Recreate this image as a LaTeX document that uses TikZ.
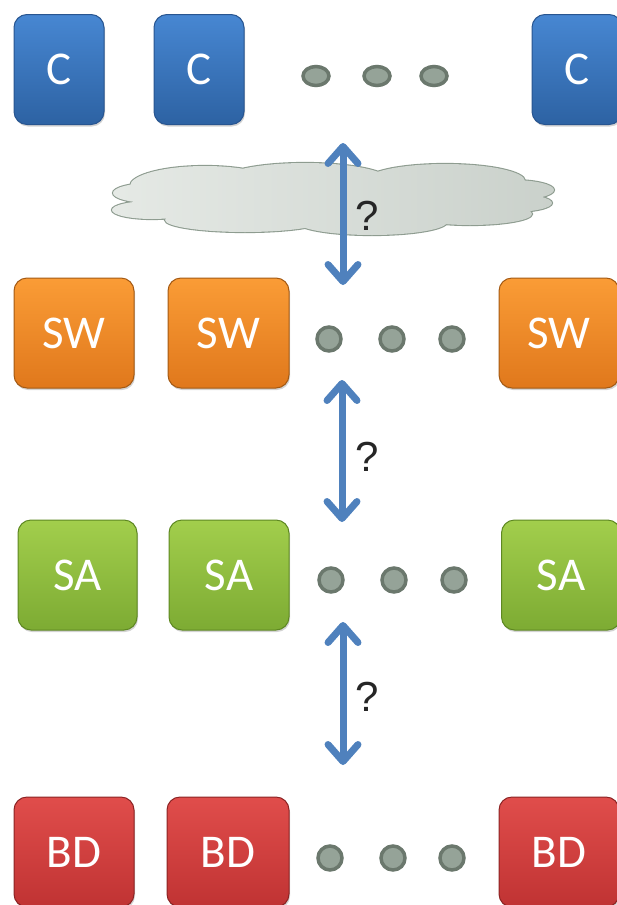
\documentclass[tikz,border=0pt]{standalone}
\usepackage{fontspec}
\setmainfont{Carlito}
\newfontfamily\qfont{Liberation Sans}
\usetikzlibrary{arrows.meta,shadows,shapes.geometric}
\definecolor{bluetop}{HTML}{4787D2}
\definecolor{bluebot}{HTML}{2D62A3}
\definecolor{blueedge}{HTML}{285590}
\definecolor{orgtop}{HTML}{FA9C36}
\definecolor{orgbot}{HTML}{E0781C}
\definecolor{orgedge}{HTML}{A45A14}
\definecolor{grntop}{HTML}{A2CE4C}
\definecolor{grnbot}{HTML}{7DAB33}
\definecolor{grnedge}{HTML}{5E8822}
\definecolor{redtop}{HTML}{E04D4B}
\definecolor{redbot}{HTML}{C03333}
\definecolor{rededge}{HTML}{8C2424}
\definecolor{arrowblue}{HTML}{4F81BD}
\definecolor{dotfill}{HTML}{95A398}
\definecolor{dotedge}{HTML}{6B786D}
\definecolor{cloudL}{HTML}{E6EAE6}
\definecolor{cloudR}{HTML}{C9D0CA}
\definecolor{cloudedge}{HTML}{8E9C90}
\tikzset{
  box/.style={rectangle, rounded corners=13pt, minimum height=110pt, inner sep=0pt,
    text=white, font=\fontsize{47}{52}\selectfont, line width=1pt,
    drop shadow={opacity=0.35, shadow xshift=1pt, shadow yshift=-2pt}},
  cbox/.style={box, top color=bluetop, bottom color=bluebot, draw=blueedge, minimum width=90pt},
  swbox/.style={box, top color=orgtop, bottom color=orgbot, draw=orgedge, minimum width=120pt},
  sabox/.style={box, top color=grntop, bottom color=grnbot, draw=grnedge, minimum width=119pt},
  bdbox/.style={box, top color=redtop, bottom color=redbot, draw=rededge, minimum width=120pt},
  dotn/.style={ellipse, fill=dotfill, draw=dotedge, line width=3.5pt, inner sep=0pt,
    minimum width=24pt, minimum height=24pt},
  cdot/.style={dotn, minimum width=26pt, minimum height=19pt},
  darrow/.style={draw=arrowblue, line width=7pt,
    {Straight Barb[length=17pt,width=30pt,line cap=round,line join=round]}-{Straight Barb[length=17pt,width=30pt,line cap=round,line join=round]}},
  qmark/.style={font=\qfont\fontsize{42}{46}\selectfont, text=black!85, inner sep=0pt}
}
\begin{document}
\begin{tikzpicture}[x=1pt,y=-1pt]
\useasboundingbox (0,0) rectangle (616,905);
% cloud
\def\cloudparts{
  (333,200) ellipse [x radius=200, y radius=22]
  (205,186) ellipse [x radius=75, y radius=20]
  (305,181) ellipse [x radius=85, y radius=18]
  (445,181) ellipse [x radius=80, y radius=17]
  (152,193) ellipse [x radius=39, y radius=10]
  (152,210) ellipse [x radius=40, y radius=9]
  (512,190) ellipse [x radius=42, y radius=10]
  (512,203) ellipse [x radius=40, y radius=9]
  (245,220) ellipse [x radius=80, y radius=12]
  (372,222) ellipse [x radius=75, y radius=13]
  (470,214) ellipse [x radius=62, y radius=11]
}
\draw[cloudedge, line width=2.2pt] \cloudparts;
\begin{scope}
  \clip \cloudparts;
  \shade[left color=cloudL, right color=cloudR] (100,150) rectangle (570,245);
\end{scope}
% row C
\node[cbox] (c1) at (59,69.5) {C};
\node[cbox] (c2) at (199,69.5) {C};
\node[cbox] (c3) at (577,69.5) {C};
\node[cdot] (cd1) at (316,76) {};
\node[cdot] (cd2) at (377,76) {};
\node[cdot] (cd3) at (434,76) {};
% row SW
\node[swbox] (s1) at (74,333) {SW};
\node[swbox, minimum width=121pt] (s2) at (228.5,333) {SW};
\node[swbox] (s3) at (559,333) {SW};
\node[dotn] (sd1) at (329,339) {};
\node[dotn] (sd2) at (392,339) {};
\node[dotn] (sd3) at (452,339) {};
% row SA
\node[sabox] (a1) at (77.5,575) {SA};
\node[sabox, minimum width=120pt] (a2) at (229,575) {SA};
\node[sabox] (a3) at (561,575) {SA};
\node[dotn] (ad1) at (331,580) {};
\node[dotn] (ad2) at (394,580) {};
\node[dotn] (ad3) at (454,580) {};
% row BD
\node[bdbox] (b1) at (74,852) {BD};
\node[bdbox, minimum width=122pt] (b2) at (228,852) {BD};
\node[bdbox] (b3) at (559,852) {BD};
\node[dotn] (bd1) at (330,858) {};
\node[dotn] (bd2) at (393,858) {};
\node[dotn] (bd3) at (452,858) {};
% arrows
\coordinate (t1) at (343,143);
\coordinate (u1) at (343,285);
\coordinate (t2) at (342,380);
\coordinate (u2) at (342,522);
\coordinate (t3) at (343,622);
\coordinate (u3) at (343,765);
\draw[darrow] (t1) -- (u1);
\draw[darrow] (t2) -- (u2);
\draw[darrow] (t3) -- (u3);
\node[qmark] (q1) at (367,216) {?};
\node[qmark] (q2) at (367,457) {?};
\node[qmark] (q3) at (367,697) {?};
\end{tikzpicture}
\end{document}
